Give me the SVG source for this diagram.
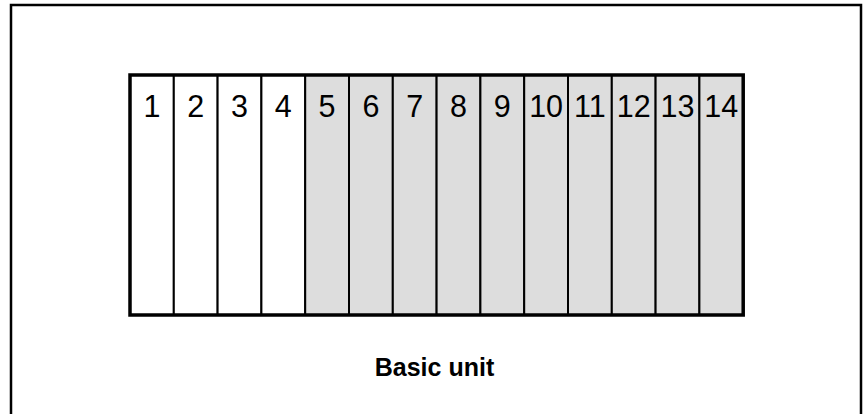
<svg xmlns="http://www.w3.org/2000/svg" width="863" height="414" viewBox="0 0 863 414">
  <style>
    .frame { fill: #ffffff; stroke: #000000; stroke-width: 2.5; }
    .cell { stroke: #000000; stroke-width: 2; }
    .plain { fill: #ffffff; }
    .shade { fill: #dddddd; }
    .outline { fill: none; stroke: #000000; stroke-width: 3.5; }
    .num { font-family: "Liberation Sans", Arial, sans-serif; font-size: 30.5px; text-anchor: middle; fill: #000000; }
    .caption { font-family: "Liberation Sans", Arial, sans-serif; font-size: 25px; font-weight: bold; text-anchor: middle; fill: #000000; }
  </style>
  <rect width="863" height="414" fill="#ffffff"/>
  <!-- outer frame, open at the bottom edge -->
  <rect class="frame" x="11" y="5" width="850" height="420"/>

  <g id="unit">
    <g id="slot-1"><rect class="cell plain" x="130" y="75" width="43.8" height="240"/><text class="num" x="151.9" y="117">1</text></g>
    <g id="slot-2"><rect class="cell plain" x="173.8" y="75" width="43.8" height="240"/><text class="num" x="195.7" y="117">2</text></g>
    <g id="slot-3"><rect class="cell plain" x="217.6" y="75" width="43.8" height="240"/><text class="num" x="239.5" y="117">3</text></g>
    <g id="slot-4"><rect class="cell plain" x="261.4" y="75" width="43.8" height="240"/><text class="num" x="283.3" y="117">4</text></g>
    <g id="slot-5"><rect class="cell shade" x="305.2" y="75" width="43.8" height="240"/><text class="num" x="327.1" y="117">5</text></g>
    <g id="slot-6"><rect class="cell shade" x="349" y="75" width="43.8" height="240"/><text class="num" x="370.9" y="117">6</text></g>
    <g id="slot-7"><rect class="cell shade" x="392.8" y="75" width="43.8" height="240"/><text class="num" x="414.7" y="117">7</text></g>
    <g id="slot-8"><rect class="cell shade" x="436.6" y="75" width="43.8" height="240"/><text class="num" x="458.5" y="117">8</text></g>
    <g id="slot-9"><rect class="cell shade" x="480.4" y="75" width="43.8" height="240"/><text class="num" x="502.3" y="117">9</text></g>
    <g id="slot-10"><rect class="cell shade" x="524.2" y="75" width="43.8" height="240"/><text class="num" x="546.1" y="117">10</text></g>
    <g id="slot-11"><rect class="cell shade" x="568" y="75" width="43.8" height="240"/><text class="num" x="589.9" y="117">11</text></g>
    <g id="slot-12"><rect class="cell shade" x="611.8" y="75" width="43.8" height="240"/><text class="num" x="633.7" y="117">12</text></g>
    <g id="slot-13"><rect class="cell shade" x="655.6" y="75" width="43.8" height="240"/><text class="num" x="677.5" y="117">13</text></g>
    <g id="slot-14"><rect class="cell shade" x="699.4" y="75" width="43.8" height="240"/><text class="num" x="721.3" y="117">14</text></g>
    <rect class="outline" x="130" y="75" width="613.2" height="240"/>
  </g>

  <g id="caption"><text class="caption" x="434.5" y="376">Basic unit</text></g>
</svg>
